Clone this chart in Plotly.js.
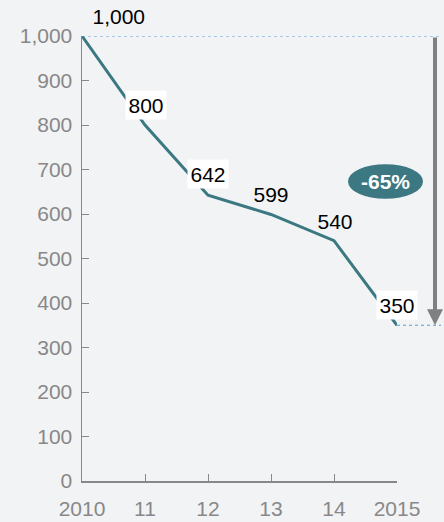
<!DOCTYPE html>
<html>
<head>
<meta charset="utf-8">
<script src="https://cdn.plot.ly/plotly-3.0.1.min.js"></script>
<style>html,body{margin:0;padding:0;background:#f2f3f5;}#chart{width:444px;height:522px;}</style>
</head>
<body>
<div id="chart"></div>
<script>
const years = [2010, 2011, 2012, 2013, 2014, 2015];
const tickLabels = ['2010', '11', '12', '13', '14', '2015'];
const values = [1000, 800, 642, 599, 540, 350];
const labelTexts = ['1,000', '800', '642', '599', '540', '350'];
const labelBoxed = [false, true, true, false, false, true];
const labelXShift = [37, 1, 0, 0, 1, 0];
const labelYShift = [20, 20, 21, 20, 20, 20];

const lineColor = '#3b7882';
const gray = '#888888';
const font = 'Liberation Sans, Arial, sans-serif';

const trace = {
  x: years, y: values, type: 'scatter', mode: 'lines',
  line: {color: lineColor, width: 3}, hoverinfo: 'skip', cliponaxis: false
};

const annotations = years.map((yr, i) => ({
  x: yr, y: values[i], xref: 'x', yref: 'y', text: labelTexts[i], showarrow: false,
  xanchor: 'center', yanchor: 'middle',
  xshift: labelXShift[i], yshift: labelYShift[i],
  font: {family: font, size: 21, color: '#000'},
  bgcolor: labelBoxed[i] ? '#ffffff' : 'rgba(0,0,0,0)', borderpad: 2.5
}));

const first = values[0], last = values[values.length - 1];
const pct = Math.round((last - first) / first * 100);

// arrow
annotations.push({
  xref: 'paper', x: (435 - 82) / 315, yref: 'y', y: last, axref: 'pixel', ax: 0, ayref: 'y', ay: first,
  showarrow: true, arrowhead: 2, arrowsize: 0.8, arrowwidth: 4, arrowcolor: '#808080', text: '',
  standoff: 0
});
annotations.push({
  xref: 'paper', x: (385 - 82) / 315, yref: 'y', y: 673, text: '<b>' + pct + '%</b>', showarrow: false,
  xanchor: 'center', yanchor: 'middle',
  font: {family: font, size: 21, color: '#ffffff'}
});

const layout = {
  width: 444, height: 522,
  margin: {l: 82, r: 47, t: 36, b: 41},
  paper_bgcolor: '#f2f3f5', plot_bgcolor: '#f2f3f5',
  showlegend: false,
  xaxis: {
    range: [2010, 2015], tickvals: years, ticktext: tickLabels,
    showgrid: false, zeroline: false, showline: true, linecolor: gray, linewidth: 1.5,
    ticks: 'inside', ticklen: 7, tickcolor: gray, tickwidth: 1,
    ticklabelstandoff: 8,
    tickfont: {family: font, size: 21, color: gray}
  },
  yaxis: {
    range: [0, 1000], dtick: 100, tick0: 0, tickformat: ',',
    showgrid: false, zeroline: false, showline: true, linecolor: gray, linewidth: 1.5,
    ticks: 'inside', ticklen: 7, tickcolor: gray, tickwidth: 1,
    ticklabelstandoff: 4,
    tickfont: {family: font, size: 21, color: gray}
  },
  shapes: [
    {type: 'line', xref: 'paper', yref: 'y', x0: 0, x1: (441 - 82) / 315, y0: first, y1: first,
     line: {color: '#5b9bd5', width: 1.2, dash: 'dot'}},
    {type: 'line', xref: 'paper', yref: 'y', x0: 1, x1: (441 - 82) / 315, y0: last, y1: last,
     line: {color: '#5b9bd5', width: 1.2, dash: 'dot'}},
    {type: 'circle', xref: 'paper', yref: 'y', x0: (348 - 82) / 315, x1: (423 - 82) / 315, y0: 634, y1: 712,
     fillcolor: '#3b7882', line: {width: 0}}
  ],
  annotations: annotations
};

Plotly.newPlot('chart', [trace], layout, {displayModeBar: false, staticPlot: true});
</script>
</body>
</html>
